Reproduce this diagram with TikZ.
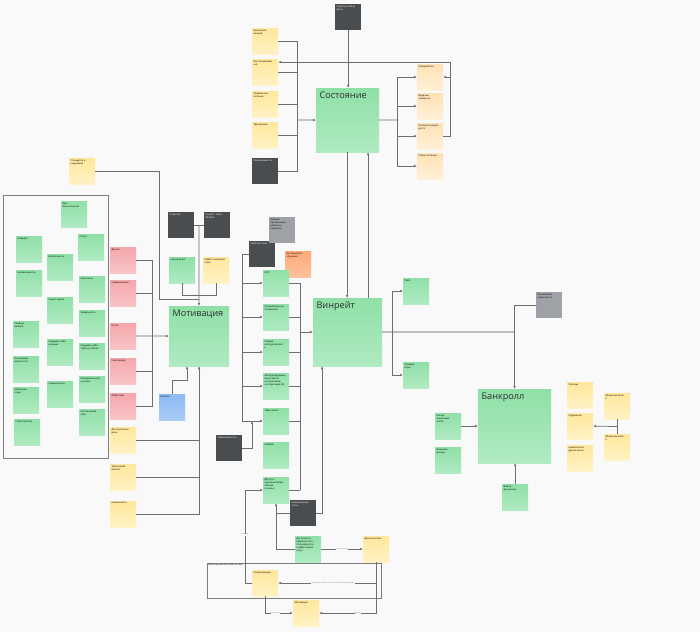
\documentclass[tikz,border=0pt]{standalone}
\usepackage{fontspec}
\setmainfont{Open Sans}
\usetikzlibrary{arrows.meta,calc}
\definecolor{bgc}{HTML}{F9F9F9}
\definecolor{gtop}{HTML}{8FE0A7}
\definecolor{gbot}{HTML}{B0EAC2}
\definecolor{ytop}{HTML}{FFE79C}
\definecolor{ybot}{HTML}{FFF2C4}
\definecolor{ptop}{HTML}{FFE2B4}
\definecolor{pbot}{HTML}{FFF0D8}
\definecolor{rtop}{HTML}{F5A7AC}
\definecolor{rbot}{HTML}{F8C4C7}
\definecolor{darkc}{HTML}{4A4D50}
\definecolor{grayc}{HTML}{9EA1A5}
\definecolor{otop}{HTML}{FDA977}
\definecolor{obot}{HTML}{FCC39E}
\definecolor{btop}{HTML}{8CBAF4}
\definecolor{bbot}{HTML}{AACDF7}
\definecolor{linec}{HTML}{6E6E6E}
\definecolor{thickc}{HTML}{BDBDBD}
\definecolor{framec}{HTML}{7C7C7C}
\definecolor{titlec}{HTML}{2E2E2E}
\newcommand{\nt}[1]{\parbox[c][23mm][t]{23mm}{\raggedright\fontsize{6.8}{8.4}\selectfont #1}}
\tikzset{
  note/.style={anchor=north west, inner sep=1.5mm, minimum width=26mm, minimum height=26mm},
  grn/.style={note, top color=gtop, bottom color=gbot},
  yel/.style={note, top color=ytop, bottom color=ybot},
  pch/.style={note, top color=ptop, bottom color=pbot},
  red/.style={note, top color=rtop, bottom color=rbot},
  org/.style={note, top color=otop, bottom color=obot},
  blu/.style={note, top color=btop, bottom color=bbot},
  drk/.style={note, fill=darkc, text=white},
  gry/.style={note, fill=grayc},
  big/.style={anchor=north west, top color=gtop, bottom color=gbot},
  title/.style={anchor=north west, inner sep=3.5mm, font=\fontsize{26}{30}\selectfont, text=titlec},
  conn/.style={draw=linec, line width=2pt},
  arr/.style={conn, -{Latex[length=3mm,width=2.6mm]}},
  elabel/.style={font=\fontsize{4.5}{5}\selectfont, text=linec, fill=bgc, inner sep=0.4mm},
}
\begin{document}
\begin{tikzpicture}[x=1mm,y=-1mm]
\fill[bgc] (0,0) rectangle (700,632);

% Состояние
\node[big, minimum width=63mm, minimum height=64mm, label={[title]north west:Состояние}] (state) at (316,88) {};
\node[drk] (stress) at (335,4) {\nt{Стрессоустойчи\\вость}};
\node[yel] (burn) at (252,28) {\nt{Выгорание\\эмоций}};
\node[yel] (recov) at (252,59) {\nt{Восстанавливат\\ься}};
\node[yel] (food) at (252,91) {\nt{Правильное\\питание}};
\node[yel] (train) at (252,122) {\nt{Тренировки}};
\node[drk] (refl) at (252,158) {\nt{Рефлексивность}};
\node[pch] (over) at (417,64) {\nt{Переработки}};
\node[pch] (habit) at (417,93) {\nt{Вредные\\привычки}};
\node[pch] (procr) at (417,123) {\nt{Прокрастинация\\долго}};
\node[pch] (ill) at (417,153) {\nt{Ссоры, болезни}};

\coordinate (sbus) at (297,120);
\coordinate (rbus) at (397,120);
\foreach \n in {burn,recov,food,train,refl}
  \draw[conn] (\n.east) -| (sbus);
\draw[arr] (sbus) -- (state.west);
\draw[arr] (stress.south) -- (stress.south |- state.north);
\draw[conn] (state.east) -- (rbus);
\foreach \n in {over,habit,procr,ill}
  \draw[arr] (rbus) |- (\n.west);
\draw[arr] (procr.east) -- ++(7,0) coordinate (lp) |- ([yshift=10mm]recov.east);
\draw[arr] (lp |- over.east) -- (over.east);

% Винрейт
\node[big, minimum width=69mm, minimum height=68mm, label={[title]north west:Винрейт}] (win) at (313,298) {};
\draw[arr] ([xshift=-0.5mm]state.south) -- ([xshift=-0.5mm]state.south |- win.north);
\draw[arr] ([xshift=20.5mm]state.south |- win.north) -- ([xshift=20.5mm]state.south);

% Мотивация
\node[big, minimum width=60mm, minimum height=60mm, label={[title]north west:Мотивация}] (motiv) at (169,306) {};
\node[yel] (std) at (69,158) {\nt{Стандарты и\\ощущения}};
\node[drk] (upor) at (168,212) {\nt{Упорство}};
\node[drk] (mind) at (204,212) {\nt{Growth / Fixed\\Mindset}};
\node[grn] (reg) at (169,257) {\nt{хороший рег}};
\node[yel] (kaif) at (203,257) {\nt{Кайф от хорошей\\игры}};
\coordinate (mtop) at (199,299);
\draw[conn] (std.east) -| (159,299) -- (mtop);
\draw[conn] (upor.east) -- (mind.west);
\draw[conn] ($(upor.east)!0.5!(mind.west)$) -- (mtop);
\draw[conn] (reg.south) -- ++(0,12) -| (kaif.south);
\draw[arr] (mtop) -- (motiv.north);

\draw[framec, line width=2pt] (3,195) rectangle (108,458);
\foreach \nm/\x/\y/\txt in {
  well/61/201/{Фин.\\благополучие},
  comf/16/236/{Комфорт},
  stat/78/234/{Статус},
  safe/47/254/{Безопасность},
  indep/16/270/{Независимость},
  power/79/276/{Свои силы},
  mean/47/297/{Смысл жизни},
  conf/79/310/{Уверенность},
  free/13/321/{Свобода\\выбора},
  need/47/339/{Ощущать себя\\нужным},
  here/79/343/{Ощущать себя\\``здесь и сейчас''},
  adult/13/356/{Понимание\\взрослости},
  uniq/47/381/{Уникальность},
  emo/79/376/{Эмоциональност\\ь в пике},
  bore/13/387/{Избегание\\скуки},
  fear/14/419/{Страх простоя},
  aest/79/409/{Эстетический\\опыт}}
  \node[grn] (\nm) at (\x,\y) {\nt{\txt}};

\foreach \nm/\y/\txt in {money/247/Деньги, comp/280/Соревнование, flow/323/Поток, real/358/Реализация, life/393/Лайфстайл}
  \node[red] (\nm) at (110,\y) {\nt{\txt}};
\coordinate (mbus) at (152,336);
\foreach \n in {money,comp,real,life}
  \draw[conn] (\n.east) -| (mbus);
\draw[arr] (flow.east) -- (motiv.west);

\node[yel] (goal) at (110,427) {\nt{Долгосрочные\\цели}};
\node[yel] (creat) at (110,464) {\nt{Творческий\\выхлоп}};
\node[yel] (comm) at (110,501) {\nt{коммьюнити}};
\draw[conn] (goal.east) -- (goal.east -| motiv.south);
\draw[conn] (creat.east) -- (creat.east -| motiv.south);
\draw[arr] (comm.east) -| (motiv.south);
\node[blu] (clar) at (159,394) {\nt{Ясность}};
\draw[arr] (clar.north) -- ++(0,-14) -| ([xshift=-12mm]motiv.south);

% входы винрейта
\node[drk] (ethic) at (249,241) {\nt{Рабочая этика}};
\node[gry] (skill) at (269,217) {\nt{Навыки\\организации\\рабочего\\процесса}};
\node[org] (tools) at (285,251) {\nt{Инструменты\\обучения}};
\foreach \nm/\y/\txt in {
  gto/270/{GTO},
  idea/304/{Концептуальное\\понимание},
  expl/339/{Умение\\эксплуатироват\\ь},
  tree/373/{Эксплуатируемые\\ветки (ветки\\эксплуатации,\\эксплуатация ЕЭ)},
  time/408/{Тайм-селект},
  rb/442/{Рейкбэк},
  access/477/{Доступ к\\хорошим играм\\(Легкие\\поляны)}}
  \node[grn] (\nm) at (263,\y) {\nt{\txt}};
\draw[conn] (ethic.west) -- ++(-7,0) coordinate (lb) -- (lb |- time.west);
\foreach \n in {gto,idea,expl,tree,time}
  \draw[arr] (lb |- \n.west) -- (\n.west);
\coordinate (rb) at (300,332);
\foreach \n in {gto,idea,expl,tree,time,rb,access}
  \draw[conn] (\n.east) -- (\n.east -| rb);
\draw[conn] (rb |- gto.east) -- (rb |- access.east);
\draw[arr] (rb) -- (rb -| win.west);
\node[drk] (refl2) at (216,435) {\nt{Рефлексивность}};
\draw[arr] (refl2.east) -| ([xshift=-11mm]time.west);
\node[drk] (test) at (290,500) {\nt{Коммерческие\\тесты}};
\draw[arr] (test.east) -| ([xshift=-25.5mm]win.south);
\draw[conn] (test.west) -- (test.west -| access.south);

% петля
\draw[framec, line width=2pt] (207,563) rectangle (381,598);
\node[anchor=north west, inner sep=1mm, font=\fontsize{5}{6}\selectfont] (loop) at (207,563) {Компенсирующая петля обратной связи};
\node[grn] (avail) at (295,536) {\nt{Доступность\\уверенности +\\популярности +\\подбор малой\\игры}};
\node[yel] (plus) at (363,536) {\nt{Деньги в плюс}};
\node[yel] (focus) at (252,570) {\nt{Концентрация}};
\node[yel] (mot2) at (293,600) {\nt{Мотивация}};
\draw[arr] (avail.west) -| (access.south);
\draw[arr] (avail.east) -- node[elabel] {Легкие деньги} (plus.west);
\draw[arr] (plus.south) |- node[elabel, pos=0.72] {Увеличение ставок и страх от возможных проигрышей} (focus.east);
\draw[arr] (plus.south) |- node[elabel, pos=0.66] {Доходы} (mot2.east);
\draw[arr] (focus.south) |- node[elabel, pos=0.69] {Снижение} (mot2.west);
\draw[arr] (focus.west) -- ++(-7,0) |- node[elabel, pos=0.26] {реакция} (access.west);

% Банкролл
\node[big, minimum width=73mm, minimum height=74mm, label={[title]north west:Банкролл}] (bank) at (478,389) {};
\node[grn] (rake) at (403,278) {\nt{Рейк}};
\node[grn] (cond) at (403,362) {\nt{Условия\\игры}};
\node[gry] (fin) at (536,292) {\nt{Финансовая\\грамотность}};
\node[grn] (hours) at (435,413) {\nt{Кол-во\\сыгранных\\часов}};
\node[grn] (ext) at (435,447) {\nt{Внешние\\доходы}};
\node[grn] (disc) at (502,484) {\nt{Выбор\\дисциплин}};
\coordinate (bj) at (514,332);
\coordinate (wr) at (392,332);
\draw[thickc, line width=5pt] (win.east) -- (bj);
\draw[arr] (wr) |- (rake.west);
\draw[arr] (wr) |- (cond.west);
\draw[arr] (fin.west) -| (bank.north);
\draw[arr] (hours.east) -- (bank.west |- hours.east);
\draw[arr] (disc.north) -- (disc.north |- bank.south);

\node[yel] (cost) at (567,382) {\nt{Расходы}};
\node[yel] (ludo) at (567,413) {\nt{Лудомания}};
\node[yel] (risk) at (567,445) {\nt{Невыплаты и\\другие риски}};
\node[yel] (fraud) at (604,393) {\nt{Мошенничеств\\о}};
\node[yel] (fraud2) at (604,434) {\nt{Мошенничеств\\о}};
\draw[conn] (fraud.south) -- (fraud2.north);
\draw[arr] ($(fraud.south)!0.5!(fraud2.north)$) -- (ludo.east);
\end{tikzpicture}
\end{document}
